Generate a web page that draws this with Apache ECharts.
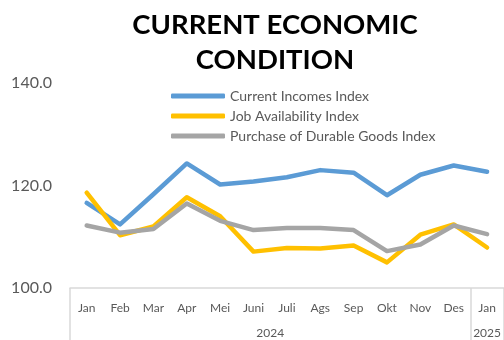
<!DOCTYPE html>
<html><head><meta charset="utf-8">
<script src="https://cdn.jsdelivr.net/npm/echarts@6/dist/echarts.min.js"></script>
<style>html,body{margin:0;padding:0;background:#fff}#c{width:504px;height:340px}</style>
</head><body><div id="c"></div>
<script>
const months = ['Jan','Feb','Mar','Apr','Mei','Juni','Juli','Ags','Sep','Okt','Nov','Des','Jan'];
const years = ['2024','2025'];
const yearCenters = [6, 12.5];
const groupBounds = [0, 12, 13];
const incomes = [116.6,112.4,118.3,124.3,120.2,120.8,121.6,123.0,122.5,118.1,122.1,123.9,122.7];
const jobs = [118.6,110.3,112.0,117.7,114.0,107.1,107.8,107.7,108.3,105.0,110.4,112.4,107.9];
const durable = [112.2,110.8,111.5,116.5,113.1,111.3,111.7,111.7,111.3,107.2,108.5,112.2,110.5];
const yTicks = {min:100, max:140, interval:20};

const chart = echarts.init(document.getElementById('c'), null, {renderer:'canvas'});
const font = 'Lato, "Open Sans", sans-serif';
const mk = (name, data, color) => ({
  name, type:'line', data, symbol:'none', smooth:false,
  lineStyle:{width:4.5, color, cap:'round', join:'round'}, itemStyle:{color}
});
chart.setOption({
  animation:false,
  title:{text:'CURRENT ECONOMIC\nCONDITION', left:270, top:3, textAlign:'center',
    textStyle:{fontFamily:font, fontWeight:'bold', fontSize:27.5, lineHeight:35, color:'#000'}},
  legend:{orient:'vertical', left:166, top:84, itemWidth:54, itemHeight:5, itemGap:6, icon:'roundRect',
    textStyle:{fontFamily:font, fontSize:14, color:'#595959'},
    data:['Current Incomes Index','Job Availability Index','Purchase of Durable Goods Index']},
  grid:{left:70, top:83, width:435, height:205, containLabel:false},
  xAxis:[
    {type:'category', data:months, boundaryGap:true,
     axisLine:{show:false}, axisTick:{show:false},
     axisLabel:{interval:0, fontFamily:font, fontSize:12, color:'#595959', margin:14}},
    {type:'value', min:0, max:13, position:'bottom',
     axisLine:{show:true, lineStyle:{color:'#d9d9d9', width:1.5}},
     axisTick:{show:true, customValues:groupBounds, length:54, lineStyle:{color:'#d9d9d9', width:1.5}},
     axisLabel:{customValues:yearCenters, formatter:(v)=> v===yearCenters[0]?years[0]:years[1],
       fontFamily:font, fontSize:12, color:'#595959', margin:39},
     splitLine:{show:false}}
  ],
  yAxis:{type:'value', min:yTicks.min, max:yTicks.max, interval:yTicks.interval,
    axisLine:{show:false}, axisTick:{show:false}, splitLine:{show:false},
    axisLabel:{formatter:(v)=>v.toFixed(1), fontFamily:font, fontSize:16, color:'#595959', margin:18}},
  series:[
    mk('Current Incomes Index', incomes, '#5B9BD5'),
    mk('Job Availability Index', jobs, '#FFC000'),
    mk('Purchase of Durable Goods Index', durable, '#A5A5A5')
  ]
});
</script></body></html>
